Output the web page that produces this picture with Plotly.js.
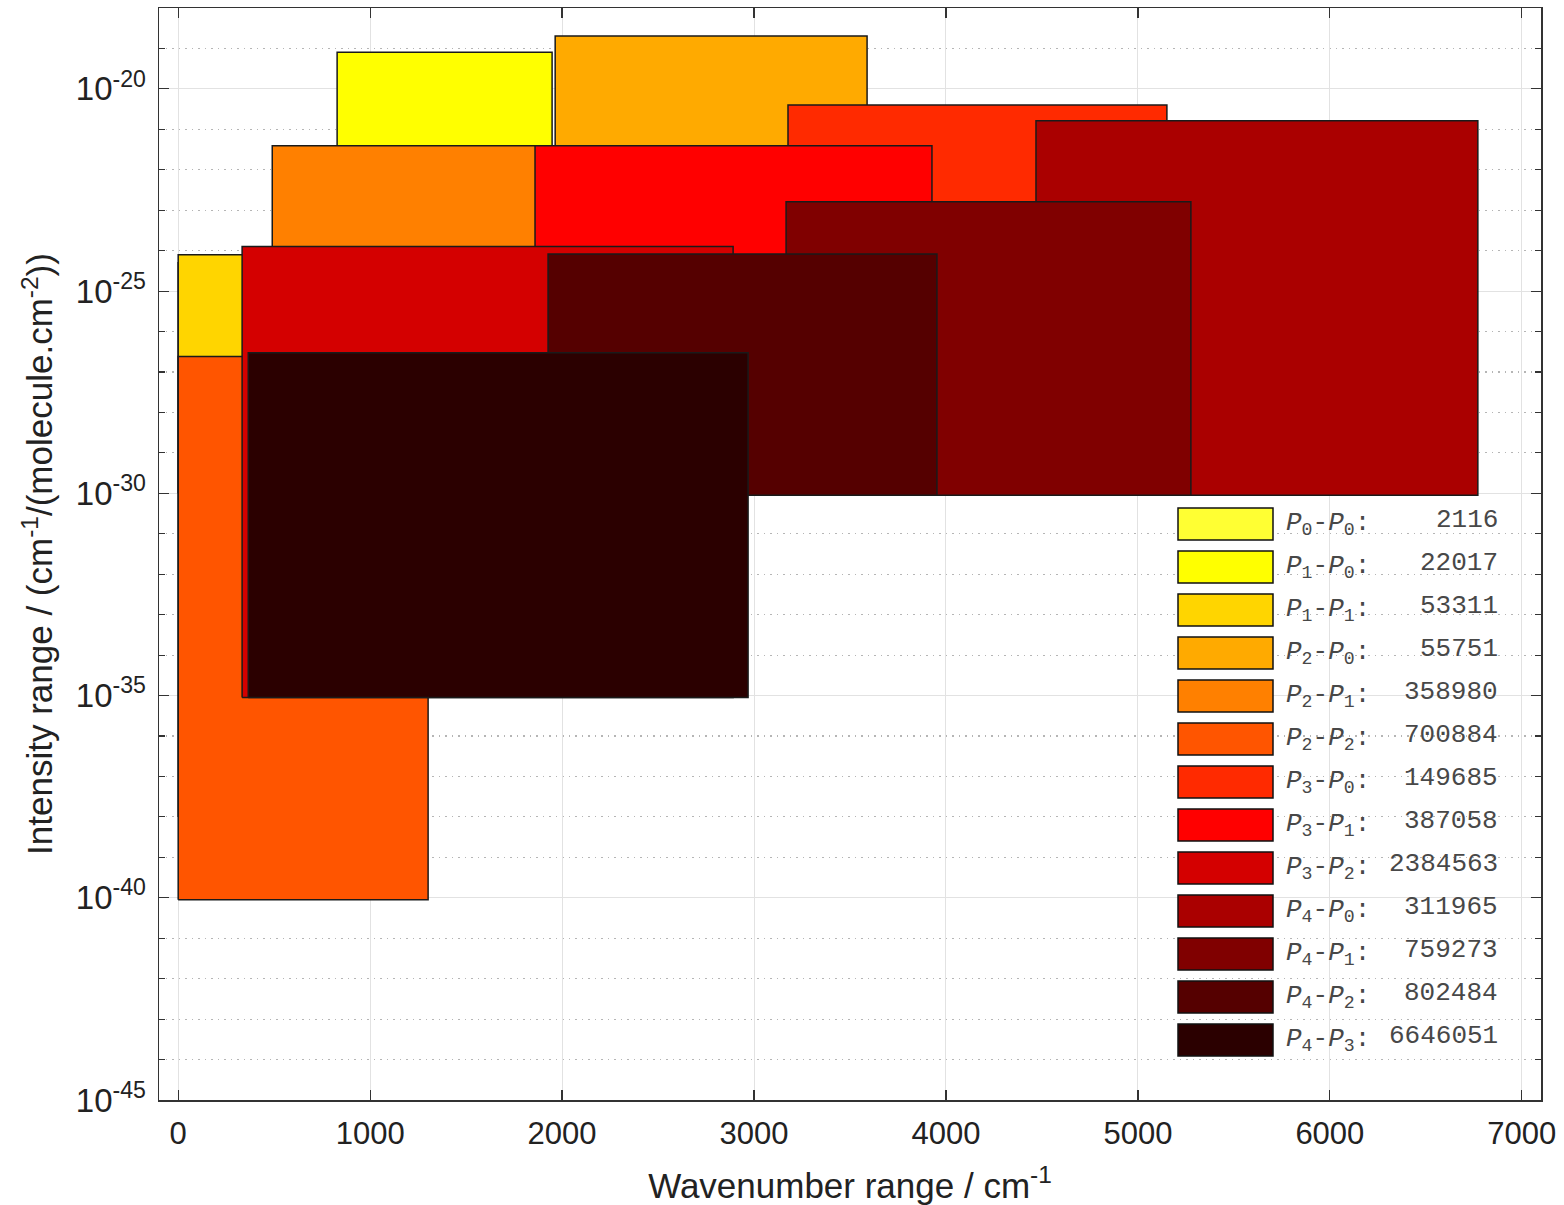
<!DOCTYPE html>
<html><head><meta charset="utf-8">
<script src="https://cdn.plot.ly/plotly-3.0.1.min.js"></script>
<style>html,body{margin:0;padding:0;background:#fff}#chart{width:1564px;height:1205px}</style>
</head><body><div id="chart"></div>
<script>
// Vibrational band groups: upper polyad - lower polyad
const upperPolyad = [0, 1, 1, 2, 2, 2, 3, 3, 3, 4, 4, 4, 4];
const lowerPolyad = [0, 0, 1, 0, 1, 2, 0, 1, 2, 0, 1, 2, 3];
const lineCounts = [2116, 22017, 53311, 55751, 358980, 700884, 149685, 387058, 2384563, 311965, 759273, 802484, 6646051];
// Wavenumber ranges (cm-1)
const wnMin = [0, 828, 0, 1964, 490, 0, 3177, 1859, 333, 4469, 3167, 1927, 365];
const wnMax = [320, 1948, 1700, 3589, 2400, 1302, 5151, 3927, 2891, 6771, 5276, 3953, 2969];
// Intensity ranges (cm-1/(molecule cm-2))
const intMin = [1e-38, 3e-23, 1e-30, 1e-22, 1e-26, 9e-41, 1e-27, 1e-28, 9e-36, 9e-31, 9e-31, 9e-31, 9e-36];
const intMax = [5e-25, 8.1e-20, 7.9e-25, 2.04e-19, 3.9e-22, 2.4e-27, 4.0e-21, 3.9e-22, 1.26e-24, 1.62e-21, 1.62e-23, 8.3e-25, 3.0e-27];
const colors = ["#ffff33", "#ffff00", "#ffd500", "#ffaa00", "#ff8000", "#ff5500", "#ff2a00", "#ff0000", "#d40000", "#aa0000", "#800000", "#550000", "#2b0000"];
// y tick decades
const yTickExponents = [-45, -40, -35, -30, -25, -20];

const traces = upperPolyad.map((u, i) => ({
  type: 'scatter', mode: 'lines', fill: 'toself',
  x: [wnMin[i], wnMax[i], wnMax[i], wnMin[i], wnMin[i]],
  y: [intMin[i], intMin[i], intMax[i], intMax[i], intMin[i]],
  fillcolor: colors[i],
  line: {color: '#1a1a1a', width: 1.5},
  name: 'P' + u + '-P' + lowerPolyad[i],
  showlegend: false, hoverinfo: 'name'
}));

// custom legend (paper coordinates)
const L = 159, R = 1541, T = 8, B = 1100;
const px = v => (v - L) / (R - L);
const py = v => (B - v) / (B - T);
const shapes = [], annotations = [];
const legFont = {family: 'Liberation Mono, Courier New, monospace', size: 26, color: '#484848'};
upperPolyad.forEach((u, i) => {
  const cy = 524 + 43 * i;
  shapes.push({type: 'rect', xref: 'paper', yref: 'paper',
    x0: px(1178), x1: px(1273), y0: py(cy + 16), y1: py(cy - 16),
    fillcolor: colors[i], line: {color: '#111', width: 1.5}, layer: 'above'});
  annotations.push({xref: 'paper', yref: 'paper', x: px(1284), y: py(cy), xanchor: 'left', yanchor: 'middle',
    text: '<i>P</i><sub>' + u + '</sub>-<i>P</i><sub>' + lowerPolyad[i] + '</sub>:', showarrow: false, font: legFont});
  annotations.push({xref: 'paper', yref: 'paper', x: px(1500), y: py(cy - 4), xanchor: 'right', yanchor: 'middle',
    text: String(lineCounts[i]), showarrow: false, font: legFont});
});

const titleFont = {family: 'Liberation Sans, Arial, sans-serif', size: 35, color: '#222'};
const layout = {
  width: 1564, height: 1205,
  margin: {l: L, r: 1564 - R, t: T, b: 1205 - B},
  paper_bgcolor: '#fff', plot_bgcolor: '#fff',
  showlegend: false,
  xaxis: {
    range: [-100, 7100], dtick: 1000, tick0: 0,
    ticks: 'inside', ticklen: 10, tickwidth: 1.2, tickcolor: '#333',
    showline: true, linecolor: '#333', linewidth: 1.5, mirror: 'ticks',
    showgrid: true, gridcolor: '#e2e2e2', gridwidth: 1, zeroline: false,
    tickfont: {family: 'Liberation Sans, Arial, sans-serif', size: 31, color: '#222'}, ticklabelstandoff: 5,
    title: {text: 'Wavenumber range / cm<sup>-1</sup>', font: titleFont, standoff: 24}
  },
  yaxis: {
    type: 'log', range: [-45, -18],
    tickmode: 'array',
    tickvals: yTickExponents.map(e => Math.pow(10, e)),
    ticktext: yTickExponents.map(e => '10<sup>' + String(e) + '</sup>'),
    ticks: 'inside', ticklen: 10, tickwidth: 1.2, tickcolor: '#333',
    showline: true, linecolor: '#333', linewidth: 1.5, mirror: 'ticks',
    showgrid: true, gridcolor: '#e2e2e2', gridwidth: 1, zeroline: false,
    minor: {dtick: 1, ticks: 'inside', ticklen: 6, tickcolor: '#333', showgrid: true, gridcolor: '#b5b5b5', griddash: '1.5px,5px', gridwidth: 1.2},
    tickfont: {family: 'Liberation Sans, Arial, sans-serif', size: 33, color: '#222'}, ticklabelstandoff: 5,
    title: {text: 'Intensity range / (cm<sup>-1</sup>/(molecule.cm<sup>-2</sup>))', font: titleFont, standoff: 12}
  },
  shapes: shapes,
  annotations: annotations
};
Plotly.newPlot('chart', traces, layout, {displayModeBar: false, staticPlot: true});
</script>
</body></html>
